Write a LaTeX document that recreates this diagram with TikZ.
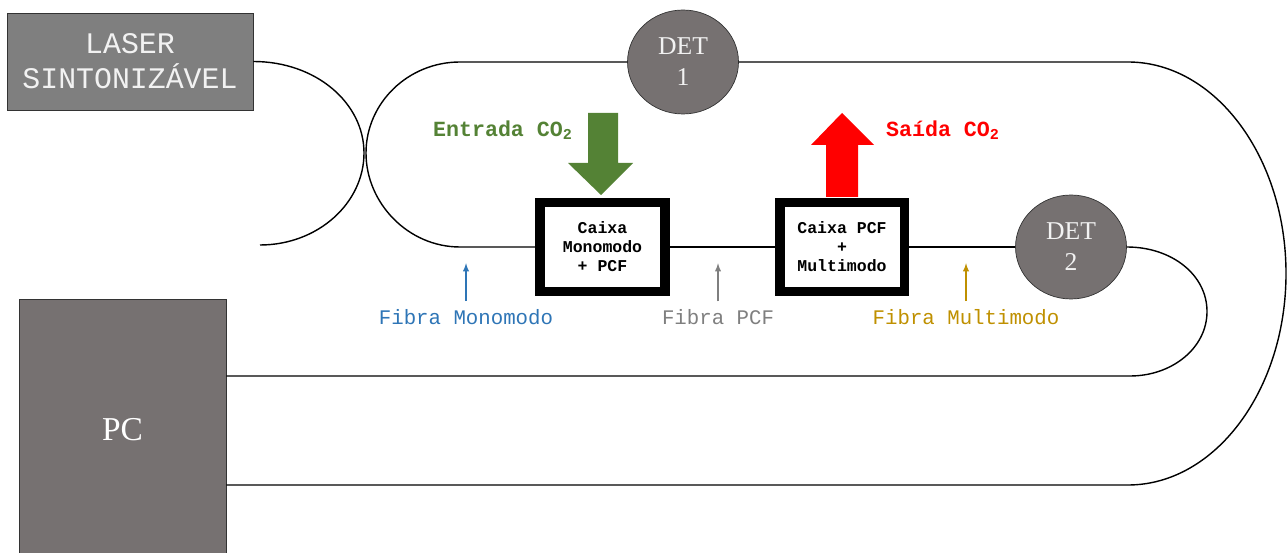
\documentclass[tikz,border=0pt]{standalone}
\usepackage{fontspec}
\setmainfont{Liberation Mono}
\newfontfamily\devfont{Liberation Serif}
\usetikzlibrary{arrows,shapes.geometric}

\definecolor{lasergray}{HTML}{7F7F7F}
\definecolor{devgray}{HTML}{767171}
\definecolor{co2green}{HTML}{548235}
\definecolor{fibblue}{HTML}{2E75B6}
\definecolor{fibgray}{HTML}{7F7F7F}
\definecolor{fibgold}{HTML}{BF9000}

\begin{document}
\begin{tikzpicture}[x=0.02cm,y=-0.02cm,>=latex,
	fiber/.style={line width=0.8pt},
	laserbox/.style={draw=black!80,fill=lasergray,text=white!95!black,inner sep=0pt,
		minimum width=4.92cm,minimum height=1.94cm,align=center,
		font=\fontsize{17}{20}\selectfont},
	pcbox/.style={draw=black!80,fill=devgray,text=white,inner sep=0pt,
		minimum width=4.14cm,minimum height=5.22cm,
		font=\devfont\fontsize{19}{22}\selectfont},
	detector/.style={ellipse,draw=black!80,fill=devgray,text=white!95!black,inner sep=0pt,
		minimum width=2.22cm,minimum height=2.08cm,align=center,
		font=\devfont\fontsize{14.6}{17.6}\selectfont},
	caixa/.style={draw,line width=5.67pt,fill=white,inner sep=0pt,
		minimum width=2.5cm,minimum height=1.78cm,align=center,
		font=\bfseries\fontsize{9.4}{10.8}\selectfont},
	fiblabel/.style={inner sep=1pt,font=\fontsize{11.8}{14}\selectfont},
	co2label/.style={inner sep=1pt,font=\bfseries\fontsize{12.3}{14}\selectfont}]
\useasboundingbox (0,0) rectangle (1287,553);

% equipamentos
\node[laserbox] (laser) at (130,61.5) {LASER\\SINTONIZÁVEL};
\node[pcbox] (pc) at (122.5,429.5) {PC};
\node[detector] (det1) at (683,62) {DET\\1};
\node[detector] (det2) at (1071,247) {DET\\2};
\node[caixa] (box1) at (602.5,247) {Caixa\\Monomodo\\+ PCF};
\node[caixa] (box2) at (842,247) {Caixa PCF\\+\\Multimodo};

% fibras
\coordinate (lsend) at (260,245);
\coordinate (r1) at (1130,376);
\coordinate (r2) at (1128,485);
\draw[fiber] (laser.east) .. controls (316,61.5) and (364,103) .. (364,153)
	.. controls (364,203) and (318,245) .. (lsend);
\draw[fiber] (det1.west) -- (460,62) .. controls (408,62) and (366,103) .. (366,153)
	.. controls (366,203) and (408,247) .. (460,247) -- (box1.west);
\draw[fiber] (box1.east) -- (box2.west);
\draw[fiber] (box2.east) -- (det2.west);
\draw[fiber] (det2.east) .. controls (1172,247) and (1207,275) .. (1207,311.5)
	.. controls (1207,348) and (1172,376) .. (r1) -- (pc.east |- r1);
\draw[fiber] (det1.east) -- (1128,62) .. controls (1215,62) and (1286,157) .. (1286,273.5)
	.. controls (1286,390) and (1215,485) .. (r2) -- (pc.east |- r2);

% fluxo de CO2
\fill[co2green] (588,113) -- (618,113) -- (618,163) -- (633,163) -- (601,195)
	-- (568,163) -- (588,163) -- cycle;
\fill[red] (842,113) -- (874,145) -- (858,145) -- (858,197) -- (826,197)
	-- (826,145) -- (811,145) -- cycle;
\node[co2label,text=co2green] (entrada) at (503,130) {Entrada CO\textsubscript{2}};
\node[co2label,text=red] (saida) at (943,130) {Saída CO\textsubscript{2}};

% tipos de fibra
\foreach \nm/\px/\txt/\col in {fmono/466/Fibra Monomodo/fibblue,
	fpcf/718/Fibra PCF/fibgray,fmulti/966/Fibra Multimodo/fibgold}{
	\node[fiblabel,text=\col] (\nm) at (\px,317) {\txt};
	\draw[->,\col,line width=0.6pt] (\nm.north) ++(0,-6) -- ++(0,-38);
}
\end{tikzpicture}
\end{document}
